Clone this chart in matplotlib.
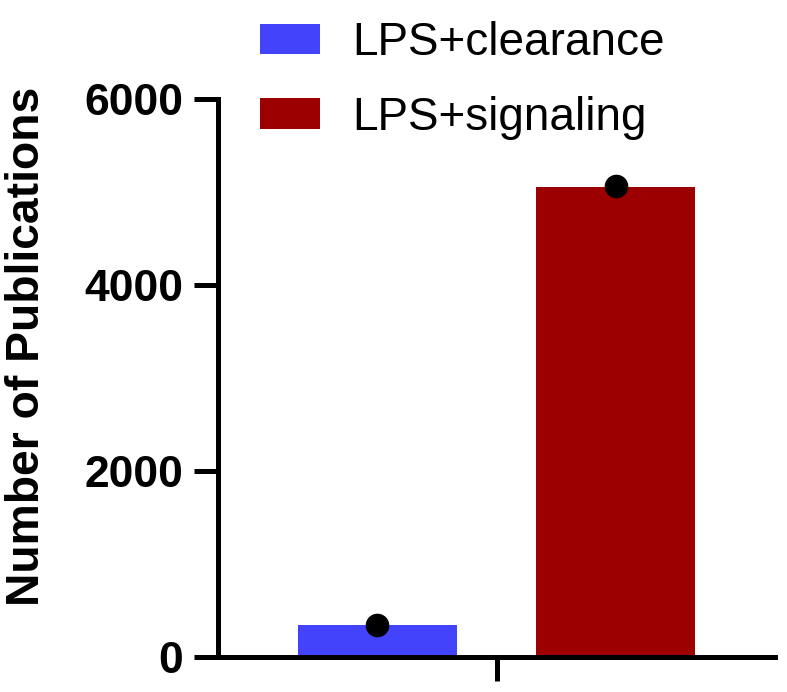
import matplotlib
matplotlib.use("Agg")
import matplotlib.pyplot as plt
from matplotlib.patches import Patch

# Data
categories = ["LPS+clearance", "LPS+signaling"]
bar_values = [340, 5050]
point_values = [340, 5060]
colors = ["#4343FB", "#9C0000"]
yticks = [0, 2000, 4000, 6000]
ylabel = "Number of Publications"

plt.rcParams["font.family"] = ["Liberation Sans", "DejaVu Sans"]

W, H = 787, 692
fig = plt.figure(figsize=(W / 100, H / 100), dpi=100)
ax = fig.add_axes([218 / W, 1 - 657 / H, (775 - 218) / W, (657 - 99) / H])

xpos = [-0.75, 0.75]
ax.bar(xpos, bar_values, width=1.0, color=colors, zorder=2)
ax.plot(xpos, point_values, "o", color="black", ms=16, zorder=4, clip_on=False)

ax.set_xlim(-1.75, 1.75)
ax.set_ylim(0, 6000)
ax.set_yticks(yticks)
ax.set_yticklabels([str(v) for v in yticks], fontsize=32, fontweight="bold")
ax.set_xticks([0])
ax.set_xticklabels([""])

for s in ["top", "right"]:
    ax.spines[s].set_visible(False)
for s in ["left", "bottom"]:
    ax.spines[s].set_linewidth(3.6)
    ax.spines[s].set_capstyle("projecting")
ax.tick_params(axis="both", width=3.6, length=17, pad=8, colors="black")

fig.text(27 / W, 1 - 346 / H, ylabel, rotation=90, ha="center", va="center",
         fontsize=33.3, fontweight="bold")

handles = [Patch(facecolor=c, edgecolor="none") for c in colors]
fig.legend(handles, categories, loc="upper left",
           bbox_to_anchor=(260 / W, 1 - 21 / H), frameon=False,
           fontsize=33, handlelength=1.31, handleheight=0.655,
           handletextpad=0.70, labelspacing=0.67, borderpad=0,
           borderaxespad=0)

fig.savefig("out.png", dpi=100)
